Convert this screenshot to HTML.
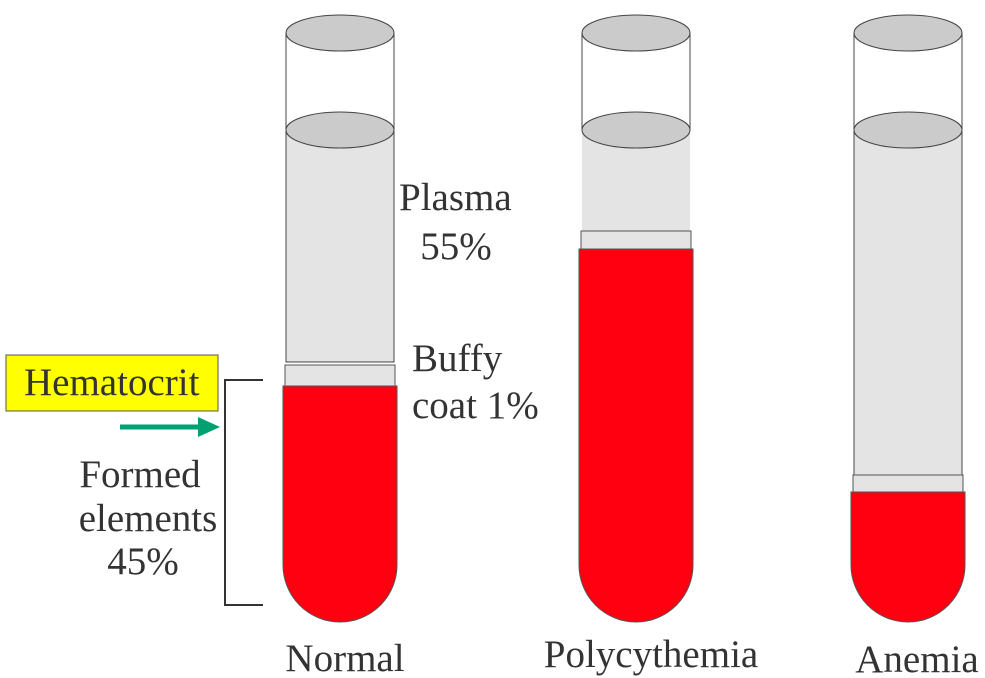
<!DOCTYPE html>
<html><head><meta charset="utf-8"><style>
html,body{margin:0;padding:0;background:#fff;}
svg{display:block;}
text{font-family:"Liberation Serif",serif;fill:#333;}
</style></head><body>
<svg width="985" height="678" viewBox="0 0 985 678">
<g id="tubes"></g>
<text x="399" y="210" font-size="39">Plasma</text>
<text x="456" y="259" font-size="39" text-anchor="middle">55%</text>
<text x="412" y="371" font-size="39">Buffy</text>
<text x="412" y="418" font-size="39">coat 1%</text>
<rect x="6" y="355" width="212" height="56" fill="#ffff00" stroke="#555" stroke-width="1"/>
<text x="24" y="395" font-size="39" fill="#222">Hematocrit</text>
<line x1="120" y1="427" x2="202" y2="427" stroke="#00a070" stroke-width="5"/>
<polygon points="198,417 220,427 198,437" fill="#00a070"/>
<polyline points="263,380 225,380 225,605 263,605" fill="none" stroke="#333" stroke-width="2"/>
<text x="140" y="487" font-size="39" text-anchor="middle">Formed</text>
<text x="148" y="531" font-size="39" text-anchor="middle">elements</text>
<text x="143" y="574" font-size="39" text-anchor="middle">45%</text>
<text x="345" y="671" font-size="39" text-anchor="middle">Normal</text>
<text x="651" y="667" font-size="39" text-anchor="middle">Polycythemia</text>
<text x="917" y="672" font-size="39" text-anchor="middle">Anemia</text>
</svg>
<script>
const tubeNames=["normal","polycythemia","anemia"];
const tubeCenters=[340,636,908];
const topCy=[33,33,33];
const surfaceCy=[130,130,130];
const plasmaBottom=[362,231,475];
const buffyBottom=[386,249,492];
const tubeBottom=[622,622,622];
const ns="http://www.w3.org/2000/svg";
const g=document.getElementById("tubes");
function mk(tag,attrs){const e=document.createElementNS(ns,tag);for(const k in attrs)e.setAttribute(k,attrs[k]);g.appendChild(e);return e;}
for(let i=0;i<tubeNames.length;i++){
  const c=tubeCenters[i],rx=54,hw=57,rb=hw;
  const n=tubeNames[i];
  let e=mk("rect",{x:c-rx,y:topCy[i],width:rx*2,height:surfaceCy[i]-topCy[i],fill:"#fff",stroke:"#444","stroke-width":1});
  
  
  e=mk("ellipse",{cx:c,cy:topCy[i],rx:rx,ry:18,fill:"#cbcbcb",stroke:"#444","stroke-width":1});
  
  
  e=mk("rect",{x:c-rx,y:surfaceCy[i],width:rx*2,height:plasmaBottom[i]-surfaceCy[i],fill:"#e4e4e4",stroke:i==1?"none":"#444","stroke-width":1});
  
  
  e=mk("ellipse",{cx:c,cy:surfaceCy[i],rx:rx,ry:18,fill:"#cbcbcb",stroke:"#444","stroke-width":1});
  
  
  const yt=buffyBottom[i],yb=tubeBottom[i];
  const top=Math.max(yt,yb-rb);
  const d=`M${c-hw},${yt} L${c+hw},${yt} L${c+hw},${top} A${hw},${rb} 0 0 1 ${c-hw},${top} Z`;
  e=mk("path",{d:d,fill:"#ff0010",stroke:"#555","stroke-width":1});
  
  
  e=mk("rect",{x:c-55,y:plasmaBottom[i]+(i==0?3:0),width:110,height:buffyBottom[i]-plasmaBottom[i]-(i==0?3:0),fill:"#e4e4e4",stroke:"#555","stroke-width":1});
  
  
}
</script>
</body></html>
